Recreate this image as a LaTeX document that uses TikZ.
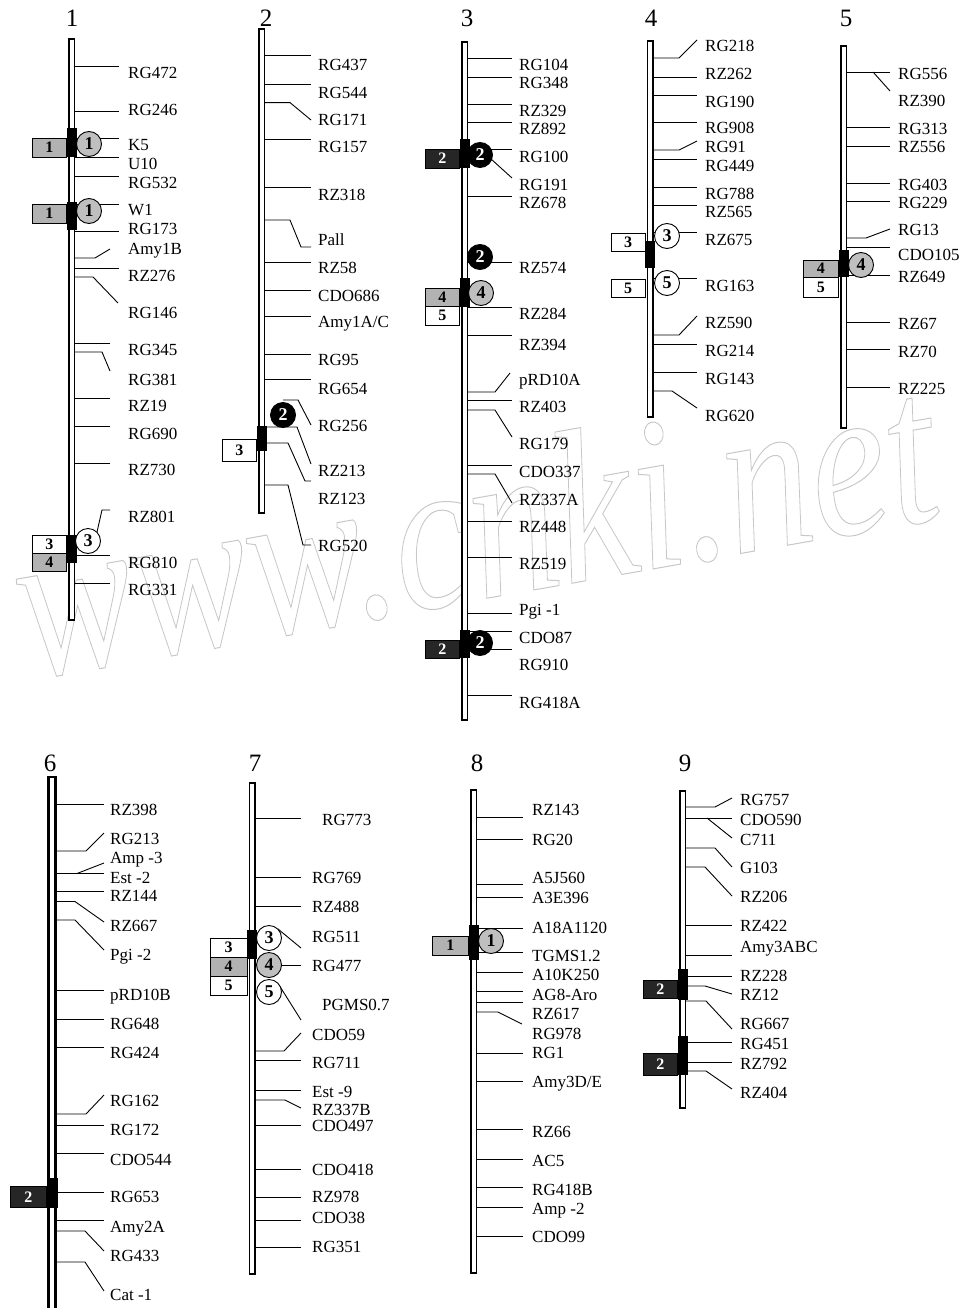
\documentclass[tikz,border=0pt]{standalone}
\usepackage{fontspec}
\setmainfont{Liberation Serif}
\newcommand\bx[8]{\draw[boxst, fill=#1] (#3,#4) rectangle (#5,#6);
  \node[bnum, text=#2] (#8) at ({(#3+#5)/2},{(#4+#6)/2}) {#7};}
\newcommand\cir[6]{\node[circ, fill=#1, text=#2] (#6) at (#3,#4) {#5};}
\newcommand\seg[3]{\fill (#1-5,#2) rectangle (#1+5,#3);}
\newcommand\outlinetext[1]{\special{pdf:literal 1 Tr 0.8 w}#1\special{pdf:literal 0 Tr}}
\begin{document}
\begin{tikzpicture}[x=1pt,y=-1pt,
  tk/.style={line width=0.9pt},
  barst/.style={draw, fill=white, line width=1.5pt},
  boxst/.style={draw, line width=0.8pt},
  bnum/.style={font=\fontsize{16}{16}\selectfont\bfseries, inner sep=0},
  circ/.style={circle, draw, line width=0.9pt, minimum size=25pt, inner sep=0, font=\fontsize{18}{18}\selectfont\bfseries},
  lab/.style={anchor=west, inner sep=0, text height=11pt, text depth=0pt, font=\fontsize{17}{17}\selectfont},
  cnum/.style={font=\fontsize{25}{25}\selectfont, inner sep=0},
  wm/.style={text=black!22, font=\fontsize{175}{175}\selectfont\itshape, rotate=10, yscale=1.25, inner sep=0}]
\useasboundingbox (0,0) rectangle (971,1308);
\node[wm] (wm) at (474,525) {\outlinetext{www.cnki.net}};
% chromosome numbers
\node[cnum] (n1) at (72,18) {1};
\node[cnum] (n2) at (266,18) {2};
\node[cnum] (n3) at (467,18) {3};
\node[cnum] (n4) at (651,18) {4};
\node[cnum] (n5) at (846,18) {5};
\node[cnum] (n6) at (50,763) {6};
\node[cnum] (n7) at (255,763) {7};
\node[cnum] (n8) at (477,763) {8};
\node[cnum] (n9) at (685,763) {9};

% ================= chromosome 1
\foreach \y in {66,111,138,157,176,204,231,268} \draw[tk] (75,\y) -- (119,\y);
\foreach \y in {343,398,426,463,555,583} \draw[tk] (75,\y) -- (110,\y);
\draw[tk] (75,258) -- (95,258) -- (110,249);
\draw[tk] (75,277) -- (93,277) -- (118,303);
\draw[tk] (75,352) -- (102,352) -- (110,371);
\draw[tk] (97,532) -- (102,510) -- (110,510);
\draw[barst] (68.75,39) rectangle (74.25,620);
\seg{71.5}{128}{157}\seg{71.5}{202}{230}\seg{71.5}{535}{563}
\bx{black!30}{black}{32}{138}{66.5}{157}{1}{b1a}
\bx{black!30}{black}{32}{204}{66.5}{223}{1}{b1b}
\bx{white}{black}{32}{535}{66.5}{553}{3}{b1c}
\bx{black!30}{black}{32}{553}{66.5}{571}{4}{b1d}
\cir{black!25}{black}{89}{144}{1}{c1a}
\cir{black!25}{black}{89}{211}{1}{c1b}
\cir{white}{black}{88}{541}{3}{c1c}
\foreach \y/\t [count=\i] in {73/RG472,110/RG246,145/K5,164/U10,183/RG532,210/W1,229/RG173,249/Amy1B,276/RZ276,313/RG146,350/RG345,380/RG381,406/RZ19,434/RG690,470/RZ730,517/RZ801,563/RG810,590/RG331}
  \node[lab] (a\i) at (128,\y) {\t};

% ================= chromosome 2
\foreach \y in {55,84,139,187,262.5,290,316.5,354,379} \draw[tk] (265,\y) -- (311,\y);
\draw[tk] (265,102.6) -- (290,102.6) -- (311,120);
\draw[tk] (265,220) -- (290,220) -- (301,247) -- (311,247);
\draw[tk] (283,400) -- (298,400) -- (311,425);
\draw[tk] (265,427) -- (297,427) -- (311,464);
\draw[tk] (265,443) -- (288,443) -- (305,481) -- (311,481);
\draw[tk] (265,485) -- (288,485) -- (303,545) -- (311,545);
\draw[barst] (258.75,29) rectangle (264.25,513);
\seg{261.5}{426}{451}
\bx{white}{black}{222}{439}{256.5}{461}{3}{b2a}
\cir{black}{white}{283}{415}{2}{c2a}
\foreach \y/\t [count=\i] in {65/RG437,93/RG544,120/RG171,147/RG157,195/RZ318,240/Pall,268/RZ58,296/CDO686,322/{Amy1A/C},360/RG95,389/RG654,426/RG256,471/RZ213,499/RZ123,546/RG520}
  \node[lab] (b\i) at (318,\y) {\t};

% ================= chromosome 3
\foreach \y in {58,77,104,122,149,196,262,307,335,400,465,521,557,613,631,649,695} \draw[tk] (468,\y) -- (512,\y);
\draw[tk] (491,159) -- (512,178);
\draw[tk] (468,392) -- (495,392) -- (510,373);
\draw[tk] (468,410) -- (495,410) -- (512,437);
\draw[tk] (468,474) -- (495,474) -- (512,503);
\draw[barst] (461.75,42) rectangle (467.25,720);
\seg{464.5}{139}{168}\seg{464.5}{278}{307}\seg{464.5}{630}{658}
\bx{black!85}{white}{425}{149}{459.5}{168}{2}{b3a}
\bx{black!30}{black}{425}{288}{459.5}{306}{4}{b3b}
\bx{white}{black}{425}{306}{459.5}{325}{5}{b3c}
\bx{black!85}{white}{425}{640}{459.5}{658}{2}{b3d}
\cir{black}{white}{480}{155}{2}{c3a}
\cir{black}{white}{480}{257}{2}{c3b}
\cir{black!25}{black}{481}{293}{4}{c3c}
\cir{black}{white}{480}{643}{2}{c3d}
\foreach \y/\t [count=\i] in {65/RG104,83/RG348,111/RZ329,129/RZ892,157/RG100,185/RG191,203/RZ678,268/RZ574,314/RZ284,345/RZ394,380/pRD10A,407/RZ403,444/RG179,472/CDO337,500/RZ337A,527/RZ448,564/RZ519,610/{Pgi -1},638/CDO87,665/RG910,703/RG418A}
  \node[lab] (c\i) at (519,\y) {\t};

% ================= chromosome 4
\foreach \y in {77,95,122,159,187,205,232,278,344,372} \draw[tk] (653.5,\y) -- (697,\y);
\draw[tk] (653.5,58) -- (679,58) -- (697,40);
\draw[tk] (653.5,150) -- (679,150) -- (697,141);
\draw[tk] (653.5,335) -- (679,335) -- (697,316);
\draw[tk] (653.5,391) -- (672,391) -- (697,408);
\draw[barst] (647.25,41) rectangle (652.75,417);
\seg{650}{241}{268}
\bx{white}{black}{611}{233}{645}{251}{3}{b4a}
\bx{white}{black}{611}{279}{645}{297}{5}{b4b}
\cir{white}{black}{667}{236}{3}{c4a}
\cir{white}{black}{667}{283}{5}{c4b}
\foreach \y/\t [count=\i] in {46/RG218,74/RZ262,102/RG190,128/RG908,147/RG91,166/RG449,194/RG788,212/RZ565,240/RZ675,286/RG163,323/RZ590,351/RG214,379/RG143,416/RG620}
  \node[lab] (d\i) at (705,\y) {\t};

% ================= chromosome 5
\foreach \y in {72,127,146,183,201,247,275,322,349,387} \draw[tk] (847,\y) -- (890,\y);
\draw[tk] (873,72) -- (890,91);
\draw[tk] (847,238) -- (866,238) -- (890,229);
\draw[barst] (840.75,46) rectangle (846.25,428);
\seg{843.5}{250}{277}
\bx{black!30}{black}{803}{260}{838.5}{277}{4}{b5a}
\bx{white}{black}{803}{277}{838.5}{297}{5}{b5b}
\cir{black!25}{black}{861}{265}{4}{c5a}
\foreach \y/\t [count=\i] in {74/RG556,101/RZ390,129/RG313,147/RZ556,185/RG403,203/RG229,230/RG13,255/CDO105,277/RZ649,324/RZ67,352/RZ70,389/RZ225}
  \node[lab] (e\i) at (898,\y) {\t};

% ================= chromosome 6
\foreach \y in {804,873.5,891,990,1019,1047,1125,1153,1192,1220} \draw[tk] (57,\y) -- (104,\y);
\draw[tk] (57,851) -- (86,851) -- (104,833);
\draw[tk] (77,873.5) -- (104,863);
\draw[tk] (57,901.5) -- (75,901.5) -- (104,922);
\draw[tk] (57,920) -- (75,920) -- (104,950);
\draw[tk] (57,1114) -- (86,1114) -- (104,1095);
\draw[tk] (57,1231) -- (85,1231) -- (104,1251);
\draw[tk] (57,1262) -- (85,1262) -- (104,1291);
\draw[barst, line width=2.2pt] (48.5,777) rectangle (55.5,1320);
\fill (46.5,1178) rectangle (57.5,1207.5);
\bx{black!85}{white}{10}{1186.5}{46.5}{1207.5}{2}{b6a}
\foreach \y/\t [count=\i] in {810/RZ398,839/RG213,858/{Amp -3},878/{Est -2},896/RZ144,926/RZ667,955/{Pgi -2},995/pRD10B,1024/RG648,1053/RG424,1101/RG162,1130/RG172,1160/CDO544,1197/RG653,1227/Amy2A,1256/RG433,1295/{Cat -1}}
  \node[lab] (f\i) at (110,\y) {\t};

% ================= chromosome 7
\foreach \y in {818,877,906,965,1060,1090,1125,1169,1197,1220,1247} \draw[tk] (255.5,\y) -- (301,\y);
\draw[tk] (278,929) -- (301,948);
\draw[tk] (279,985) -- (301,1020);
\draw[tk] (255.5,1051) -- (284,1051) -- (301,1033);
\draw[tk] (255.5,1100) -- (285,1100) -- (301,1108);
\draw[barst] (249.25,783) rectangle (254.75,1274);
\seg{252}{930}{959}
\bx{white}{black}{210}{938}{247}{957}{3}{b7a}
\bx{black!30}{black}{210}{957}{247}{976}{4}{b7b}
\bx{white}{black}{210}{976}{247}{995}{5}{b7c}
\cir{white}{black}{269}{938}{3}{c7a}
\cir{black!25}{black}{269}{965}{4}{c7b}
\cir{white}{black}{269}{992}{5}{c7c}
\node[lab] (g1) at (322,820) {RG773};
\node[lab] (g2) at (322,1005) {PGMS0.7};
\foreach \y/\t [count=\i from 3] in {878/RG769,907/RZ488,937/RG511,966/RG477,1035/CDO59,1063/RG711,1092/{Est -9},1110/RZ337B,1126/CDO497,1170/CDO418,1197/RZ978,1218/CDO38,1247/RG351}
  \node[lab] (g\i) at (312,\y) {\t};

% ================= chromosome 8
\foreach \y in {817,839,884,897,928,952,972,991,1002,1053,1081,1129,1159,1187,1207,1236} \draw[tk] (477,\y) -- (523,\y);
\draw[tk] (477,1012) -- (498,1012) -- (522,1024);
\draw[barst] (470.75,790) rectangle (476.25,1273);
\seg{473.5}{925}{960}
\bx{black!30}{black}{432}{936}{468.5}{955}{1}{b8a}
\cir{black!25}{black}{491}{941}{1}{c8a}
\foreach \y/\t [count=\i] in {810/RZ143,840/RG20,878/A5J560,898/A3E396,928/A18A1120,956/TGMS1.2,975/A10K250,995/AG8-Aro,1014/RZ617,1034/RG978,1053/RG1,1082/{Amy3D/E},1132/RZ66,1161/AC5,1190/RG418B,1209/{Amp -2},1237/CDO99}
  \node[lab] (h\i) at (532,\y) {\t};

% ================= chromosome 9
\foreach \y in {818,925,955,976,1042,1062} \draw[tk] (686,\y) -- (732,\y);
\draw[tk] (686,807) -- (715,807) -- (732,798);
\draw[tk] (707,818) -- (732,838);
\draw[tk] (686,848) -- (715,848) -- (732,867);
\draw[tk] (686,867) -- (705,867) -- (732,896);
\draw[tk] (686,986) -- (705,986) -- (732,994);
\draw[tk] (686,1001) -- (706,1001) -- (732,1029);
\draw[tk] (686,1071) -- (706,1071) -- (732,1089);
\draw[barst] (679.75,791) rectangle (685.25,1108);
\seg{682.5}{969}{1000}\seg{682.5}{1036}{1075}
\bx{black!85}{white}{643}{980}{677.5}{998}{2}{b9a}
\bx{black!85}{white}{643}{1053}{677.5}{1075}{2}{b9b}
\foreach \y/\t [count=\i] in {800/RG757,820/CDO590,840/C711,868/G103,897/RZ206,926/RZ422,947/Amy3ABC,976/RZ228,995/RZ12,1024/RG667,1044/RG451,1064/RZ792,1093/RZ404}
  \node[lab] (i\i) at (740,\y) {\t};
\end{tikzpicture}
\end{document}
